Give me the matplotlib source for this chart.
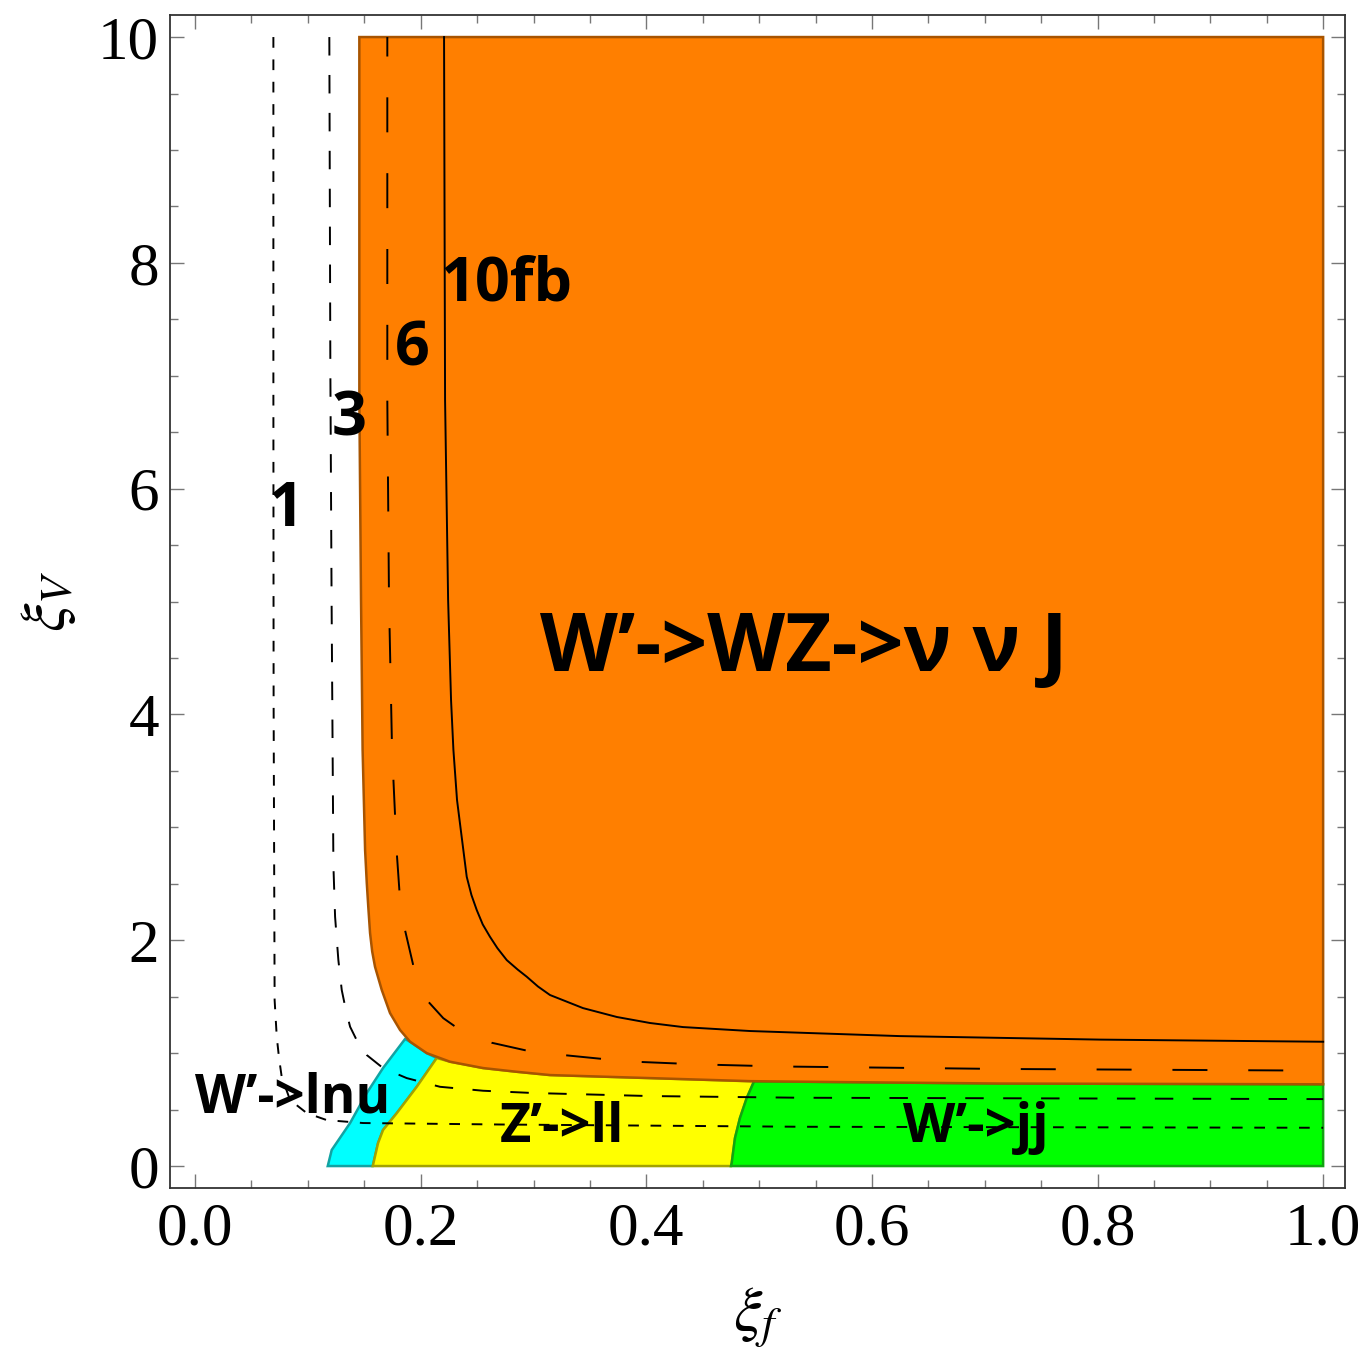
import numpy as np
import matplotlib
matplotlib.use('Agg')
import matplotlib.pyplot as plt
from matplotlib.ticker import MultipleLocator, FormatStrFormatter

# region boundaries (xi_f, xi_V)
orange_x = [1.0, 0.1456, 0.1456, 0.1471, 0.1485, 0.1507, 0.1522, 0.1535, 0.1551, 0.1570,
            0.1595, 0.1655, 0.1728, 0.1817, 0.1906, 0.2054, 0.2260, 0.2553, 0.2851,
            0.3146, 0.4033, 0.4919, 0.5805, 0.7135, 1.0]
orange_y = [10.0, 10.0, 6.784, 5.013, 3.685, 2.799, 2.506, 2.300, 2.064, 1.900,
            1.765, 1.559, 1.355, 1.205, 1.101, 1.000, 0.924, 0.868, 0.835,
            0.806, 0.779, 0.752, 0.743, 0.731, 0.724]

cyan_x = [0.1176, 0.1211, 0.1374, 0.1522, 0.1666, 0.1861, 0.1906, 0.2054, 0.2142,
          0.1965, 0.1788, 0.1666, 0.1622, 0.1575]
cyan_y = [0.0, 0.142, 0.381, 0.647, 0.868, 1.125, 1.101, 1.000, 0.957,
          0.702, 0.469, 0.319, 0.204, 0.0]

yellow_x = [0.1575, 0.1622, 0.1666, 0.1788, 0.1965, 0.2142, 0.2260, 0.2553, 0.2851,
            0.3146, 0.4033, 0.4955, 0.4890, 0.4830, 0.4786, 0.4757, 0.4751]
yellow_y = [0.0, 0.204, 0.319, 0.469, 0.702, 0.957, 0.924, 0.868, 0.835,
            0.806, 0.779, 0.750, 0.602, 0.425, 0.248, 0.027, 0.0]

green_x = [0.4751, 0.4757, 0.4786, 0.4830, 0.4890, 0.4955, 0.5805, 0.7135, 1.0, 1.0]
green_y = [0.0, 0.027, 0.248, 0.425, 0.602, 0.750, 0.743, 0.731, 0.724, 0.0]

# cross-section contours: 1, 3, 6, 10 fb
c1_x = [0.0694, 0.0694, 0.0696, 0.0705, 0.0724, 0.0745, 0.0768, 0.0842, 0.0990, 0.1167,
        0.1489, 0.2703, 0.5362, 1.0]
c1_y = [10.0, 6.873, 4.127, 1.470, 1.143, 0.950, 0.788, 0.585, 0.469, 0.407,
        0.381, 0.368, 0.348, 0.339]

c3_x = [0.1190, 0.1199, 0.1210, 0.1226, 0.1241, 0.1270, 0.1300, 0.1335, 0.1374, 0.1440,
        0.1522, 0.1666, 0.1876, 0.2171, 0.2553, 0.2996, 0.4033, 0.5362, 1.0]
c3_y = [10.0, 7.077, 5.014, 2.666, 2.208, 1.825, 1.559, 1.390, 1.234, 1.100,
        0.983, 0.868, 0.779, 0.702, 0.667, 0.647, 0.620, 0.605, 0.593]

c6_x = [0.1704, 0.1704, 0.1719, 0.1746, 0.1788, 0.1817, 0.1861, 0.1950, 0.2068,
        0.2200, 0.2349, 0.2630, 0.2996, 0.3829, 0.4476, 0.5185, 0.7135, 1.0]
c6_y = [10.0, 6.784, 5.013, 3.685, 2.772, 2.356, 2.090, 1.709, 1.455,
        1.310, 1.205, 1.092, 1.010, 0.927, 0.900, 0.882, 0.860, 0.845]

c10_x = [0.2207, 0.2216, 0.2243, 0.2269, 0.2290, 0.2322, 0.2350, 0.2378, 0.2408, 0.2450,
         0.2497, 0.2550, 0.2614, 0.2680, 0.2763, 0.2860, 0.2940, 0.3040, 0.3146,
         0.3439, 0.3740, 0.4033, 0.4325, 0.4919, 0.5362, 0.6248, 0.8021, 1.0]
c10_y = [10.0, 6.784, 5.013, 4.127, 3.685, 3.242, 3.020, 2.799, 2.562, 2.400,
         2.267, 2.140, 2.031, 1.930, 1.824, 1.740, 1.677, 1.590, 1.515,
         1.399, 1.320, 1.267, 1.231, 1.196, 1.181, 1.151, 1.120, 1.101]

labels = ['1', '3', '6', '10fb', 'W\u2019->WZ->\u03bd \u03bd J',
          'W\u2019->lnu', 'Z\u2019->ll', 'W\u2019->jj']
label_x = [0.0807, 0.1365, 0.1924, 0.2757, 0.5395, 0.0869, 0.3254, 0.6924]
label_y = [5.81, 6.61, 7.23, 7.80, 4.57, 0.60, 0.336, 0.337]
label_size = [44, 44, 44, 44, 58, 38, 39, 39]

plt.rcParams['mathtext.fontset'] = 'stix'

fig = plt.figure(figsize=(13.67, 13.55), dpi=100)
ax = fig.add_axes([0.1244, 0.1232, 0.8596, 0.8657])

ax.fill(cyan_x, cyan_y, facecolor='#00ffff', edgecolor='#12a3a3', lw=1.8, zorder=1)
ax.fill(yellow_x, yellow_y, facecolor='#ffff00', edgecolor='#a3a300', lw=1.8, zorder=1)
ax.fill(green_x, green_y, facecolor='#00ff00', edgecolor='#12a312', lw=1.8, zorder=1)
ax.fill(orange_x, orange_y, facecolor='#ff7f00', edgecolor='#a85400', lw=1.8, zorder=2)

ax.plot(c1_x, c1_y, color='black', lw=1.4, linestyle=(0, (5.5, 6.0)), zorder=3)
ax.plot(c3_x, c3_y, color='black', lw=1.4, linestyle=(0, (9.5, 10.0)), zorder=3)
ax.plot(c6_x, c6_y, color='black', lw=1.4, linestyle=(8, (18.0, 21.0)), zorder=3)
ax.plot(c10_x, c10_y, color='black', lw=1.4, zorder=3)

fam = ['Open Sans', 'DejaVu Sans']
for t, x, y, s in zip(labels, label_x, label_y, label_size):
    ax.text(x, y, t, ha='center', va='center', fontsize=s, fontweight='bold',
            family=fam, zorder=4)

ax.set_xlim(-0.0222, 1.0195)
ax.set_ylim(-0.195, 10.195)
ax.xaxis.set_major_locator(MultipleLocator(0.2))
ax.xaxis.set_minor_locator(MultipleLocator(0.05))
ax.yaxis.set_major_locator(MultipleLocator(2))
ax.yaxis.set_minor_locator(MultipleLocator(0.5))
ax.xaxis.set_major_formatter(FormatStrFormatter('%.1f'))
ax.yaxis.set_major_formatter(FormatStrFormatter('%d'))

ax.tick_params(which='both', direction='in', top=True, right=True, color='#777777', width=1.0)
ax.tick_params(which='major', length=10)
ax.tick_params(which='minor', length=5.5)
ax.tick_params(axis='x', pad=10)
ax.tick_params(axis='y', pad=8)
for lab in ax.get_xticklabels() + ax.get_yticklabels():
    lab.set_fontfamily('Liberation Serif')
    lab.set_fontsize(44)
for sp in ax.spines.values():
    sp.set_color('#333333')
    sp.set_linewidth(1.3)

ax.set_xlabel(r'$\xi_f$', fontsize=46, labelpad=20)
ax.set_ylabel(r'$\xi_V$', fontsize=46, labelpad=14)

plt.savefig('out.png', dpi=100)
